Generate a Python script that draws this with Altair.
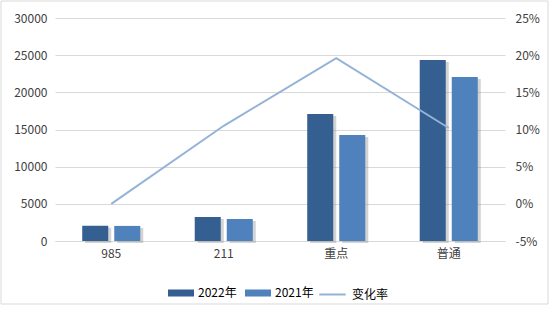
import altair as alt
import pandas as pd

categories = ["985", "211", "重点", "普通"]
v2022 = [2050, 3230, 17090, 24360]
v2021 = [2030, 2960, 14270, 22070]
rate = [0.0, 0.105, 0.196, 0.102]

series_names = ["2022年", "2021年"]
rate_name = "变化率"

rows = []
for c, a, b in zip(categories, v2022, v2021):
    rows.append({"cat": c, "series": series_names[0], "value": a})
    rows.append({"cat": c, "series": series_names[1], "value": b})
bars_df = pd.DataFrame(rows)
line_df = pd.DataFrame({"cat": categories, "rate": rate, "name": [rate_name] * 4})

FONT = "Noto Sans CJK SC"
TXT = "#404040"

xenc = alt.X("cat:N", sort=categories, title=None,
             scale=alt.Scale(paddingInner=0, paddingOuter=0),
             axis=alt.Axis(labelAngle=0, ticks=False, domain=True, domainColor="#D9D9D9",
                           labelPadding=7, labelFontSize=12, labelColor=TXT, labelFont=FONT))

yscale = alt.Scale(domain=[0, 30000], nice=False)
yaxis = alt.Axis(values=[0, 5000, 10000, 15000, 20000, 25000, 30000], format="d",
                 ticks=False, domain=False, gridColor="#D9D9D9", labelPadding=8,
                 labelFontSize=12, labelColor=TXT, labelFont=FONT)

shadow = alt.Chart(bars_df).mark_bar(color="#808080", opacity=0.35, yOffset=2).encode(
    x=xenc,
    xOffset=alt.XOffset("series:N", sort=series_names,
                        scale=alt.Scale(paddingInner=0.1875, paddingOuter=0.85, range=[3, 115.5])),
    y=alt.Y("value:Q", scale=yscale, title=None, axis=yaxis),
)

bars = alt.Chart(bars_df).mark_bar().encode(
    x=xenc,
    xOffset=alt.XOffset("series:N", sort=series_names,
                        scale=alt.Scale(paddingInner=0.1875, paddingOuter=0.85)),
    y=alt.Y("value:Q", scale=yscale, title=None, axis=yaxis),
    color=alt.Color("series:N", sort=series_names,
                    scale=alt.Scale(domain=series_names, range=["#355F91", "#4F81BD"]),
                    legend=alt.Legend(orient="none", legendX=113, legendY=262, direction="horizontal",
                                      title=None, symbolType="M-1,-0.27H1V0.27H-1Z", symbolSize=676,
                                      symbolStrokeWidth=0, labelFontSize=12, labelColor="#000000",
                                      labelFont=FONT, columnPadding=8, labelOffset=4)),
)

line = alt.Chart(line_df).mark_line(strokeWidth=2).encode(
    x=xenc,
    y=alt.Y("rate:Q", scale=alt.Scale(domain=[-0.05, 0.25], nice=False), title=None,
            axis=alt.Axis(orient="right", values=[-0.05, 0, 0.05, 0.1, 0.15, 0.2, 0.25], format=".0%",
                          labelExpr="replace(datum.label, '\u2212', '-')",
                          ticks=False, domain=False, grid=False, labelPadding=10,
                          labelFontSize=12, labelColor=TXT, labelFont=FONT)),
    stroke=alt.Stroke("name:N", scale=alt.Scale(domain=[rate_name], range=["#95B3D7"]),
                      legend=alt.Legend(orient="none", legendX=263, legendY=262, title=None,
                                        symbolType="stroke", symbolSize=700, symbolStrokeWidth=2,
                                        labelFontSize=12, labelColor="#000000", labelFont=FONT,
                                        labelOffset=5)),
)

border = alt.Chart(pd.DataFrame({"a": [0]})).mark_rect(
    fill=None, stroke="#D9D9D9", strokeWidth=1
).encode(x=alt.value(-54), x2=alt.value(493), y=alt.value(-17), y2=alt.value(286))

bar_layer = alt.layer(shadow, bars).resolve_scale(xOffset="independent")

chart = alt.layer(bar_layer, line, border).resolve_scale(
    y="independent"
).properties(
    width=450, height=223,
    background="white",
    autosize=alt.AutoSizeParams(type="none"),
    padding={"left": 55, "top": 18, "right": 52, "bottom": 70},
).configure_view(strokeWidth=0)

chart.save("out.html", embed_options={"renderer": "svg", "actions": False})
